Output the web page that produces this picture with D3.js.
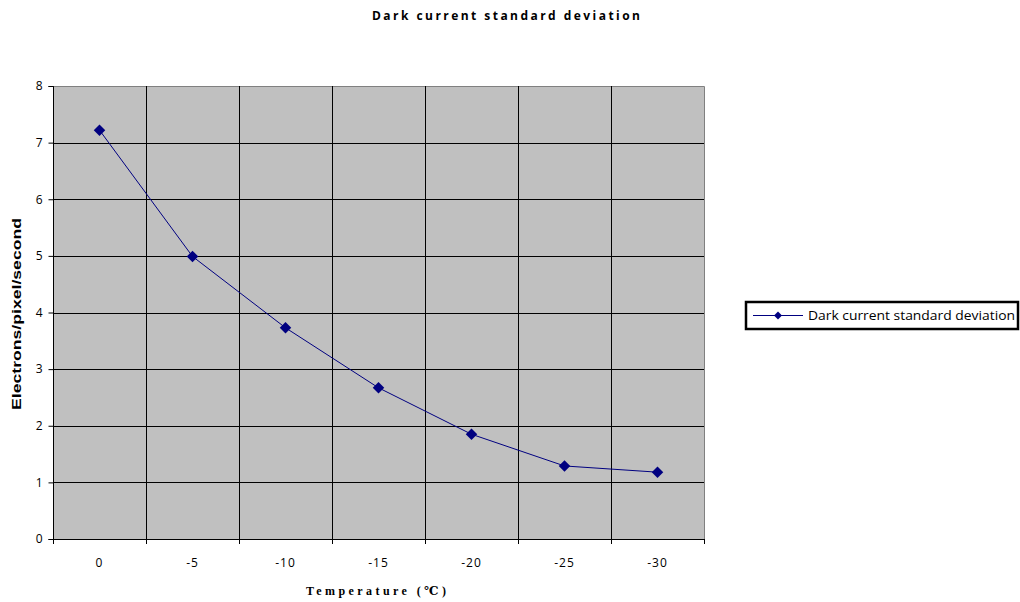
<!DOCTYPE html>
<html>
<head>
<meta charset="utf-8">
<script src="https://cdn.jsdelivr.net/npm/d3@7"></script>
<style>
  html, body { margin: 0; padding: 0; background: #fff; }
  svg { display: block; }
</style>
</head>
<body>
<svg id="chart" width="1020" height="602"></svg>
<script>
// Dark current standard deviation vs. sensor temperature
const temperatures = ["0", "-5", "-10", "-15", "-20", "-25", "-30"];
const darkStdDev = [7.22, 4.99, 3.73, 2.67, 1.85, 1.29, 1.18];
const yTicks = [0, 1, 2, 3, 4, 5, 6, 7, 8];
const seriesName = "Dark current standard deviation";

const svg = d3.select("#chart");
const plot = { left: 53, right: 704, top: 86, bottom: 539 };
const navy = "#000080";

const x = d3.scaleBand().domain(temperatures).range([plot.left, plot.right]).padding(0);
const y = d3.scaleLinear().domain([0, 8]).range([plot.bottom, plot.top]);

// plot background
svg.append("rect")
  .attr("x", plot.left).attr("y", plot.top)
  .attr("width", plot.right - plot.left).attr("height", plot.bottom - plot.top)
  .attr("fill", "#c0c0c0");

// frame top/right in grey
svg.append("path")
  .attr("d", `M${plot.left},${plot.top + 0.5}H${plot.right + 0.5}V${plot.bottom}`)
  .attr("fill", "none").attr("stroke", "#808080").attr("stroke-width", 1);

// horizontal gridlines
svg.append("g").selectAll("line").data(yTicks.filter(d => d > 0 && d < 8)).join("line")
  .attr("x1", plot.left).attr("x2", plot.right)
  .attr("y1", d => Math.round(y(d)) + 0.5).attr("y2", d => Math.round(y(d)) + 0.5)
  .attr("stroke", "#000").attr("stroke-width", 1);

// vertical gridlines at category boundaries
const bounds = temperatures.slice(1).map(t => x(t));
svg.append("g").selectAll("line").data(bounds).join("line")
  .attr("x1", d => Math.round(d) + 0.5).attr("x2", d => Math.round(d) + 0.5)
  .attr("y1", plot.top).attr("y2", plot.bottom)
  .attr("stroke", "#000").attr("stroke-width", 1);

// y axis
const yAxis = d3.axisLeft(y).tickValues(yTicks).tickSize(5).tickPadding(6).tickFormat(d3.format("d"));
const gy = svg.append("g").attr("transform", `translate(${plot.left + 0.5},0)`).call(yAxis);
gy.select(".domain").attr("stroke", "#000").attr("d", `M-5,${plot.top + 0.5}H0V${plot.bottom + 0.5}H-5`);
gy.selectAll(".tick line").attr("stroke", "#000");
gy.selectAll("text").attr("font-family", "'Open Sans', 'DejaVu Sans', sans-serif").attr("font-size", 12).attr("fill", "#000");

// x axis: ticks at category boundaries, labels centred in bands
const edges = [plot.left].concat(bounds, [plot.right]);
const gx = svg.append("g");
gx.append("line")
  .attr("x1", plot.left).attr("x2", plot.right + 1)
  .attr("y1", plot.bottom + 0.5).attr("y2", plot.bottom + 0.5)
  .attr("stroke", "#000");
gx.selectAll("line.tk").data(edges).join("line").attr("class", "tk")
  .attr("x1", d => Math.round(d) + 0.5).attr("x2", d => Math.round(d) + 0.5)
  .attr("y1", plot.bottom).attr("y2", plot.bottom + 5)
  .attr("stroke", "#000");
gx.selectAll("text").data(temperatures).join("text")
  .attr("x", d => x(d) + x.bandwidth() / 2)
  .attr("y", 567)
  .attr("text-anchor", "middle")
  .attr("font-family", "'Open Sans', 'DejaVu Sans', sans-serif")
  .attr("font-size", 12)
  .attr("letter-spacing", 1)
  .text(d => d);

// series line
const cx = d => x(d) + x.bandwidth() / 2;
svg.append("path")
  .datum(temperatures.map((t, i) => [cx(t), y(darkStdDev[i])]))
  .attr("d", d3.line())
  .attr("fill", "none").attr("stroke", navy).attr("stroke-width", 1);

// diamond markers
const diamond = d3.symbol().type(d3.symbolDiamond2).size(85);
svg.append("g").selectAll("path").data(temperatures).join("path")
  .attr("transform", (t, i) => `translate(${cx(t)},${y(darkStdDev[i])})`)
  .attr("d", diamond)
  .attr("fill", navy);

// title
svg.append("text")
  .attr("x", 506).attr("y", 20)
  .attr("text-anchor", "middle")
  .attr("font-family", "'Open Sans', 'DejaVu Sans', sans-serif")
  .attr("font-weight", "bold").attr("font-size", 12)
  .attr("textLength", 268).attr("lengthAdjust", "spacing")
  .text(seriesName);

// x axis title
svg.append("text")
  .attr("x", 376).attr("y", 595)
  .attr("text-anchor", "middle")
  .attr("font-family", "'Liberation Serif', 'DejaVu Serif', serif")
  .attr("font-weight", "bold").attr("font-size", 12)
  .attr("textLength", 140).attr("lengthAdjust", "spacing")
  .text("Temperature (℃)");

// y axis title
svg.append("text")
  .attr("transform", "translate(21,314) rotate(-90)")
  .attr("text-anchor", "middle")
  .attr("font-family", "'Liberation Sans', 'DejaVu Sans', sans-serif")
  .attr("font-weight", "900").attr("font-size", 13)
  .attr("textLength", 192).attr("lengthAdjust", "spacingAndGlyphs")
  .text("Electrons/pixel/second");

// legend
const lg = svg.append("g");
lg.append("rect")
  .attr("x", 746).attr("y", 302).attr("width", 272).attr("height", 27)
  .attr("fill", "#fff").attr("stroke", "#000").attr("stroke-width", 2.5);
lg.append("line")
  .attr("x1", 753).attr("x2", 803).attr("y1", 315.5).attr("y2", 315.5)
  .attr("stroke", navy).attr("stroke-width", 1);
lg.append("path")
  .attr("transform", "translate(778,315.5)")
  .attr("d", d3.symbol().type(d3.symbolDiamond2).size(40))
  .attr("fill", navy);
lg.append("text")
  .attr("x", 808).attr("y", 320)
  .attr("font-family", "'Open Sans', 'DejaVu Sans', sans-serif")
  .attr("font-size", 12)
  .attr("textLength", 207).attr("lengthAdjust", "spacingAndGlyphs")
  .text(seriesName);
</script>
</body>
</html>
